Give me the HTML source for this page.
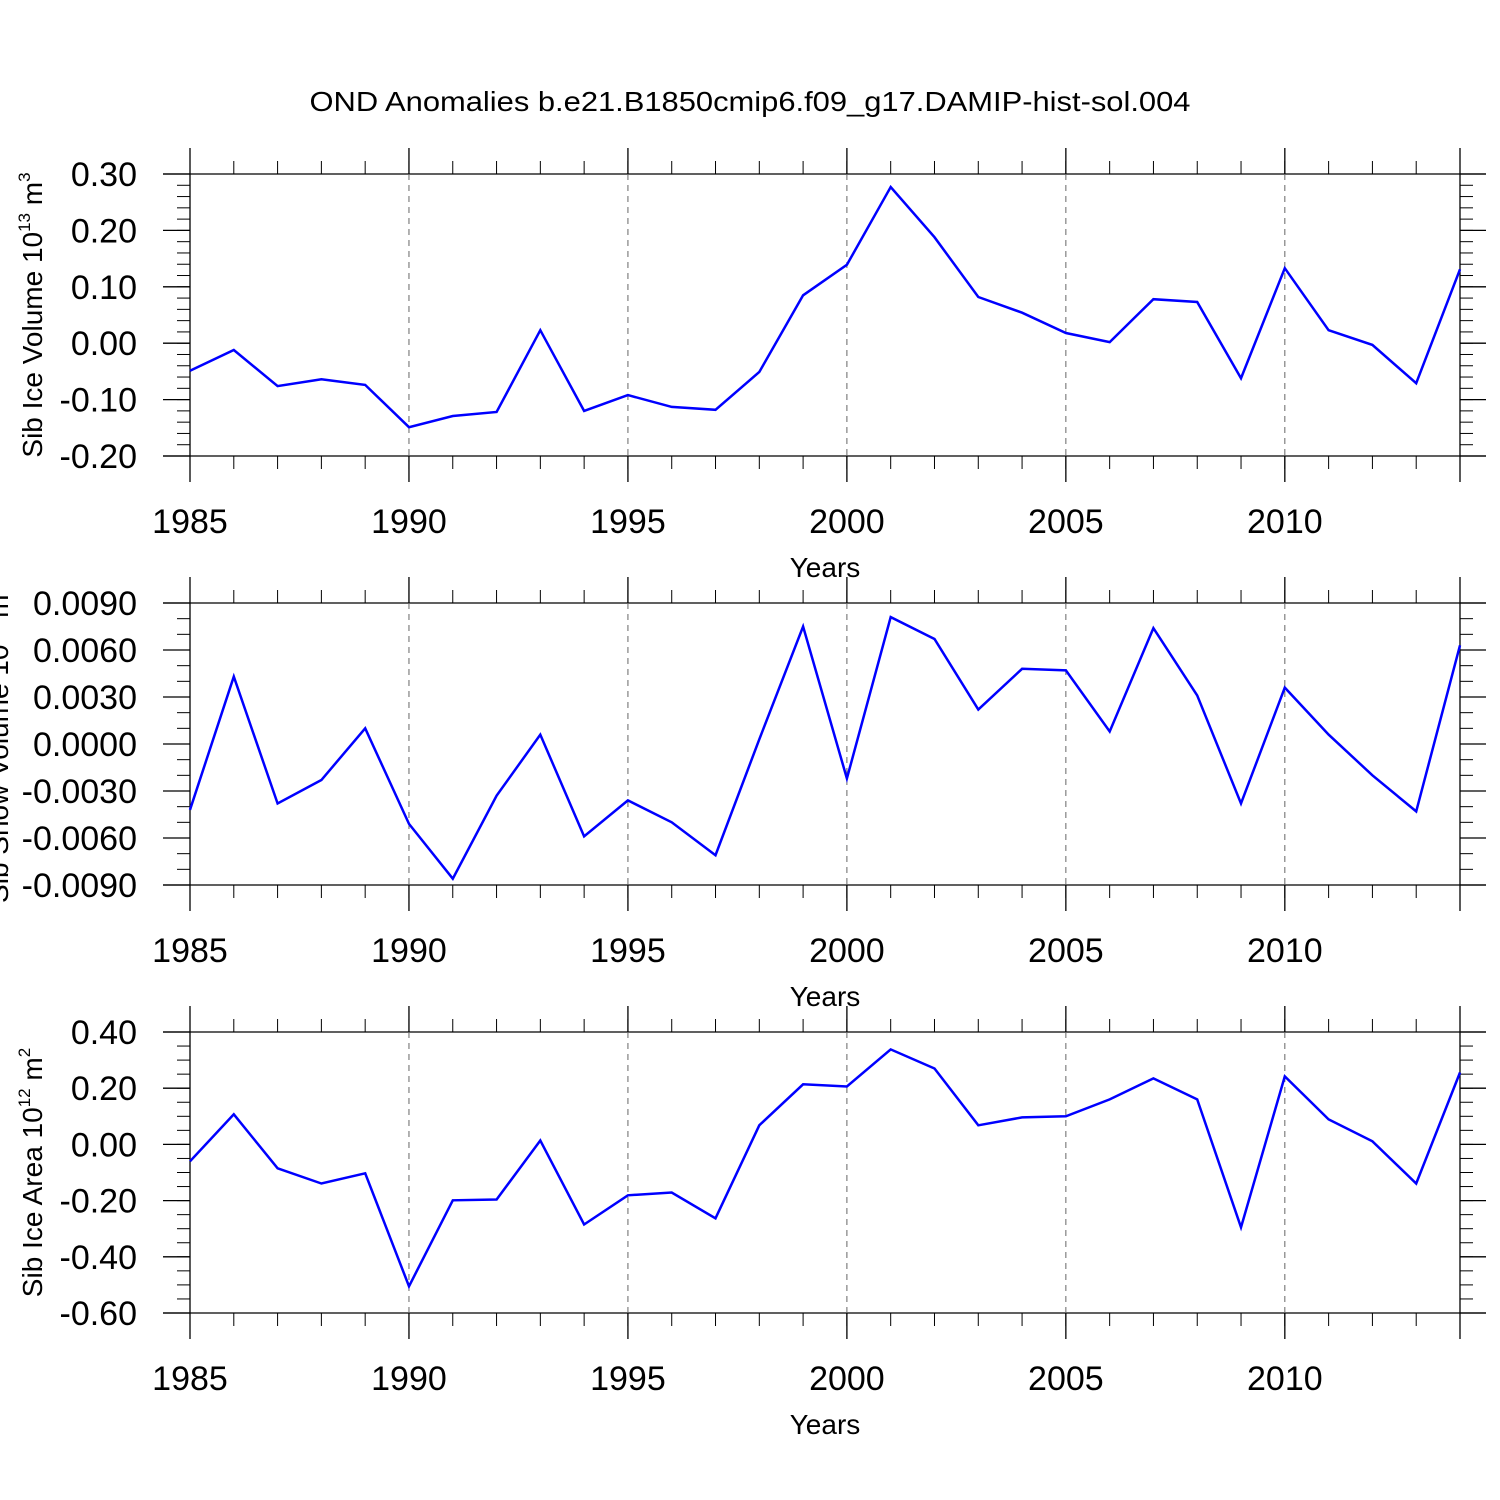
<!DOCTYPE html>
<html><head><meta charset="utf-8"><style>
html,body{margin:0;padding:0;background:#fff;}
svg{display:block;font-family:"Liberation Sans",sans-serif;}
</style></head><body>
<svg id="chart" width="1500" height="1500" viewBox="0 0 1500 1500" xmlns="http://www.w3.org/2000/svg">
<rect width="1500" height="1500" fill="#fff"/>
<text x="750" y="111" font-size="28" text-anchor="middle" textLength="881" lengthAdjust="spacingAndGlyphs">OND Anomalies b.e21.B1850cmip6.f09_g17.DAMIP-hist-sol.004</text>
</svg>
<script>
const years = [1985,1986,1987,1988,1989,1990,1991,1992,1993,1994,1995,1996,1997,1998,1999,2000,2001,2002,2003,2004,2005,2006,2007,2008,2009,2010,2011,2012,2013,2014];
const iceVolume = [-0.049,-0.012,-0.076,-0.064,-0.074,-0.149,-0.129,-0.122,0.023,-0.120,-0.092,-0.113,-0.118,-0.051,0.085,0.139,0.277,0.188,0.082,0.054,0.018,0.002,0.078,0.073,-0.062,0.133,0.023,-0.003,-0.071,0.131];
const snowVolume = [-0.0042,0.0043,-0.0038,-0.0023,0.0010,-0.0051,-0.0086,-0.0033,0.0006,-0.0059,-0.0036,-0.0050,-0.0071,0.0003,0.0075,-0.0022,0.0081,0.0067,0.0022,0.0048,0.0047,0.0008,0.0074,0.0031,-0.0038,0.0036,0.0006,-0.0020,-0.0043,0.0063];
const iceArea = [-0.060,0.107,-0.085,-0.139,-0.103,-0.505,-0.199,-0.196,0.014,-0.285,-0.181,-0.171,-0.263,0.068,0.214,0.206,0.338,0.270,0.068,0.096,0.100,0.160,0.235,0.160,-0.295,0.242,0.089,0.011,-0.139,0.256];
const xTickYears = [1985,1990,1995,2000,2005,2010];
const volTicks = [0.30,0.20,0.10,0.00,-0.10,-0.20];
const snowTicks = [0.009,0.006,0.003,0.0,-0.003,-0.006,-0.009];
const areaTicks = [0.40,0.20,0.00,-0.20,-0.40,-0.60];

const NS="http://www.w3.org/2000/svg";
const svg=document.getElementById('chart');
function mk(tag,attrs,parent){const e=document.createElementNS(NS,tag);for(const k in attrs)e.setAttribute(k,attrs[k]);(parent||svg).appendChild(e);return e;}

const X0=190,X1=1460;
function xs(yr){return X0+(yr-1985)*(X1-X0)/(2014-1985);}

function panel(cfg){
  const {top,bot,vmax,vmin,ticks,minorStep,dec,values,name,label,sup,unit,labelX}=cfg;
  const g=mk('g',{});
  
  
  const ys=v=>top+(vmax-v)*(bot-top)/(vmax-vmin);
  for(let v=vmin;v<=vmax+1e-9;v+=minorStep){
    const y=ys(v);
    mk('line',{x1:177,y1:y,x2:190,y2:y,stroke:'#000','stroke-width':1},g);
    mk('line',{x1:1460,y1:y,x2:1473,y2:y,stroke:'#000','stroke-width':1},g);
  }
  ticks.forEach(v=>{
    const y=ys(v);
    if(v===vmax||v===vmin) mk('line',{x1:163,y1:y,x2:1486,y2:y,stroke:'#000','stroke-width':1.3},g);
    mk('line',{x1:163,y1:y,x2:190,y2:y,stroke:'#000','stroke-width':1.3},g);
    mk('line',{x1:1460,y1:y,x2:1486,y2:y,stroke:'#000','stroke-width':1.3},g);
    const t=mk('text',{x:137,y:y+12,'font-size':34,'text-anchor':'end'},g);
    
    
    t.textContent=(Math.abs(v)<1e-12?0:v).toFixed(dec);
  });
  years.forEach(yr=>{
    const x=xs(yr);
    mk('line',{x1:x,y1:top-13,x2:x,y2:top,stroke:'#000','stroke-width':1},g);
    mk('line',{x1:x,y1:bot,x2:x,y2:bot+13,stroke:'#000','stroke-width':1},g);
  });
  xTickYears.concat([2014]).forEach(yr=>{
    const x=xs(yr);
    mk('line',{x1:x,y1:top-26,x2:x,y2:top,stroke:'#000','stroke-width':1.3},g);
    mk('line',{x1:x,y1:bot,x2:x,y2:bot+26,stroke:'#000','stroke-width':1.3},g);
    if(yr!==1985&&yr!==2014) mk('line',{x1:x,y1:top,x2:x,y2:bot,stroke:'#666','stroke-width':1,'stroke-dasharray':'6,5'},g);
  });
  mk('line',{x1:X0,y1:top,x2:X0,y2:bot,stroke:'#000','stroke-width':1.3},g);
  mk('line',{x1:X1,y1:top,x2:X1,y2:bot,stroke:'#000','stroke-width':1.3},g);
  xTickYears.forEach(yr=>{
    const t=mk('text',{x:xs(yr),y:bot+77,'font-size':34,'text-anchor':'middle'},g);
    
    
    t.textContent=yr;
  });
  const xt=mk('text',{x:825,y:bot+121,'font-size':28,'text-anchor':'middle'},g);
  
  
  xt.textContent='Years';
  const cy=(top+bot)/2;
  const yl=mk('text',{x:0,y:0,'font-size':28,'text-anchor':'middle',transform:`translate(${labelX},${cy}) rotate(-90)`},g);
  
  
  yl.appendChild(document.createTextNode(label+' 10'));
  const s=mk('tspan',{'font-size':17,dy:-12},yl);s.textContent=sup;
  const u=mk('tspan',{dy:12},yl);u.textContent=' m';
  const s2=mk('tspan',{'font-size':17,dy:-12},yl);s2.textContent=unit;
  const pts=values.map((v,i)=>xs(years[i]).toFixed(1)+','+ys(v).toFixed(1)).join(' ');
  const pl=mk('polyline',{points:pts,fill:'none',stroke:'#0000ff','stroke-width':2.5,'stroke-linejoin':'miter'},g);
  
  
}
panel({top:174,bot:456,vmax:0.30,vmin:-0.20,ticks:volTicks,minorStep:0.02,dec:2,values:iceVolume,name:'ice-volume',label:'Sib Ice Volume',sup:'13',unit:'3',labelX:42});
panel({top:603,bot:885,vmax:0.009,vmin:-0.009,ticks:snowTicks,minorStep:0.001,dec:4,values:snowVolume,name:'snow-volume',label:'Sib Snow Volume',sup:'12',unit:'3',labelX:8});
panel({top:1032,bot:1313,vmax:0.40,vmin:-0.60,ticks:areaTicks,minorStep:0.05,dec:2,values:iceArea,name:'ice-area',label:'Sib Ice Area',sup:'12',unit:'2',labelX:42});
</script>
</body></html>
